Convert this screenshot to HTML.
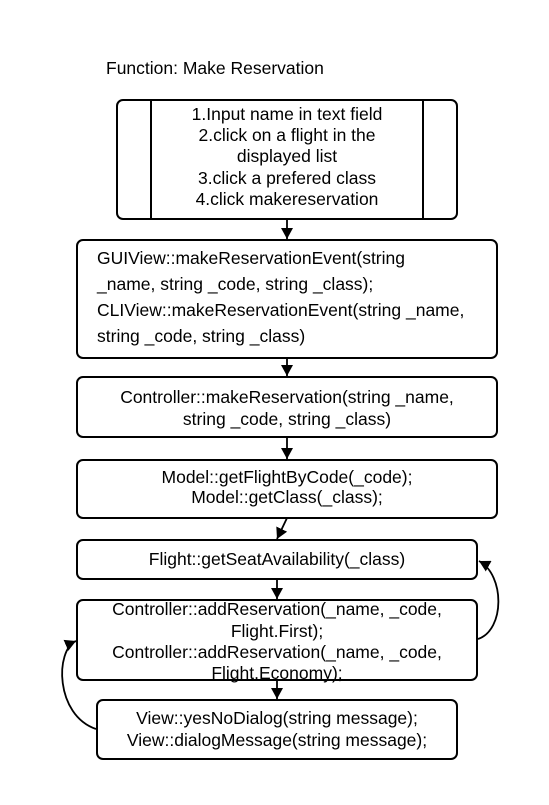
<!DOCTYPE html>
<html><head><style>
body{margin:0;background:#fff;}
svg text{font-family:"Liberation Sans",Arial,sans-serif;font-size:17.5px;fill:#000;}
</style></head><body>
<svg width="549" height="800" viewBox="0 0 549 800" xmlns="http://www.w3.org/2000/svg">
<defs><marker id="a" markerWidth="12" markerHeight="12" refX="11" refY="6" orient="auto" markerUnits="userSpaceOnUse"><path d="M0,0 L11,6 L0,12 Z" fill="#000"/></marker></defs>
<rect width="549" height="800" fill="#fff"/>
<text x="106" y="74">Function: Make Reservation</text>
<g fill="none" stroke="#000" stroke-width="2">
<rect x="117" y="100" width="340" height="119" rx="6"/>
<line x1="151" y1="100" x2="151" y2="219"/><line x1="423" y1="100" x2="423" y2="219"/>
<rect x="77" y="240" width="420" height="118" rx="6"/>
<rect x="77" y="377" width="420" height="60" rx="6"/>
<rect x="77" y="460" width="420" height="58" rx="6"/>
<rect x="77" y="540" width="400" height="39" rx="6"/>
<rect x="77" y="600" width="400" height="80" rx="6"/>
<rect x="97" y="700" width="360" height="59" rx="6"/>
<g stroke-width="1.8">
<line x1="287" y1="219" x2="287" y2="239" marker-end="url(#a)"/>
<line x1="287" y1="358" x2="287" y2="376" marker-end="url(#a)"/>
<line x1="287" y1="437" x2="287" y2="459" marker-end="url(#a)"/>
<line x1="287" y1="518" x2="277" y2="539" marker-end="url(#a)"/>
<line x1="277" y1="579" x2="277" y2="599" marker-end="url(#a)"/>
<line x1="277" y1="680" x2="277" y2="699" marker-end="url(#a)"/>
<path d="M478,639 C505,630 505,575 479,561" marker-end="url(#a)"/>
<path d="M96,729 C55,715 55,650 76,641" marker-end="url(#a)"/>
</g></g>
<g text-anchor="middle">
<text x="287" y="120">1.Input name in text field</text>
<text x="287" y="141">2.click on a flight in the</text>
<text x="287" y="162">displayed list</text>
<text x="287" y="184">3.click a prefered class</text>
<text x="287" y="205">4.click makereservation</text>
<text x="287" y="403">Controller::makeReservation(string _name,</text>
<text x="287" y="425">string _code, string _class)</text>
<text x="287" y="483">Model::getFlightByCode(_code);</text>
<text x="287" y="503">Model::getClass(_class);</text>
<text x="277" y="565">Flight::getSeatAvailability(_class)</text>
<text x="277" y="615">Controller::addReservation(_name, _code,</text>
<text x="277" y="637">Flight.First);</text>
<text x="277" y="658">Controller::addReservation(_name, _code,</text>
<text x="277" y="679">Flight.Economy);</text>
<text x="277" y="724">View::yesNoDialog(string message);</text>
<text x="277" y="746">View::dialogMessage(string message);</text>
</g>
<text x="97" y="264">GUIView::makeReservationEvent(string</text>
<text x="97" y="290">_name, string _code, string _class);</text>
<text x="97" y="316">CLIView::makeReservationEvent(string _name,</text>
<text x="97" y="342">string _code, string _class)</text>
</svg>
</body></html>
